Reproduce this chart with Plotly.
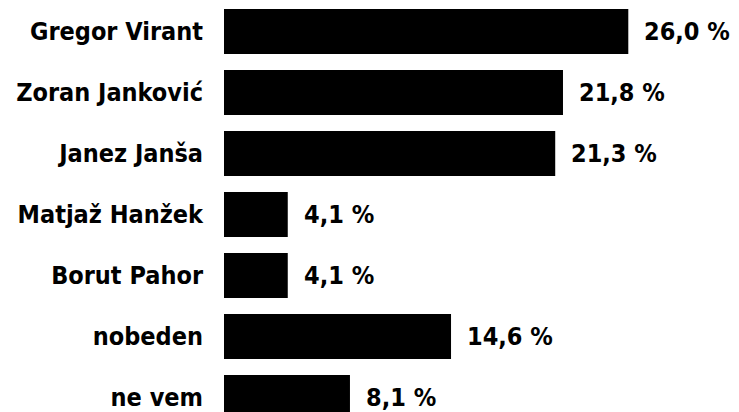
import plotly.graph_objects as go

categories = ["Gregor Virant", "Zoran Janković", "Janez Janša", "Matjaž Hanžek",
              "Borut Pahor", "nobeden", "ne vem"]
values = [26.0, 21.8, 21.3, 4.1, 4.1, 14.6, 8.1]
labels = [f"{v:.1f}".replace(".", ",") + " %" for v in values]

FONT = "DejaVu Sans Condensed, Liberation Sans Narrow, sans-serif"

fig = go.Figure(go.Bar(
    x=values, y=categories, orientation="h",
    marker=dict(color="#000000", line=dict(width=0)),
    hoverinfo="skip",
))

for v, c, t in zip(values, categories, labels):
    fig.add_annotation(x=v, y=c, text=t, showarrow=False, xanchor="left",
                       yanchor="middle", xshift=14,
                       font=dict(family=FONT, size=25, color="#000000", weight="bold"))

fig.update_layout(
    width=739, height=412,
    margin=dict(l=224, r=0, t=0, b=0, autoexpand=False),
    paper_bgcolor="white", plot_bgcolor="white",
    bargap=0.26, showlegend=False,
    font=dict(family=FONT, size=25, color="#000000", weight="bold"),
)
fig.update_xaxes(range=[0, 515 / 15.55], visible=False, automargin=False)
fig.update_yaxes(range=[6.238, -0.516], showgrid=False, zeroline=False,
                 showline=False, ticks="", ticklabelstandoff=20, automargin=False,
                 tickfont=dict(family=FONT, size=25, color="#000000", weight="bold"))

fig.write_html(
    "out.html",
    config={"displayModeBar": False, "staticPlot": True},
    post_script="document.body.style.margin='0';document.body.style.overflow='hidden';",
)
